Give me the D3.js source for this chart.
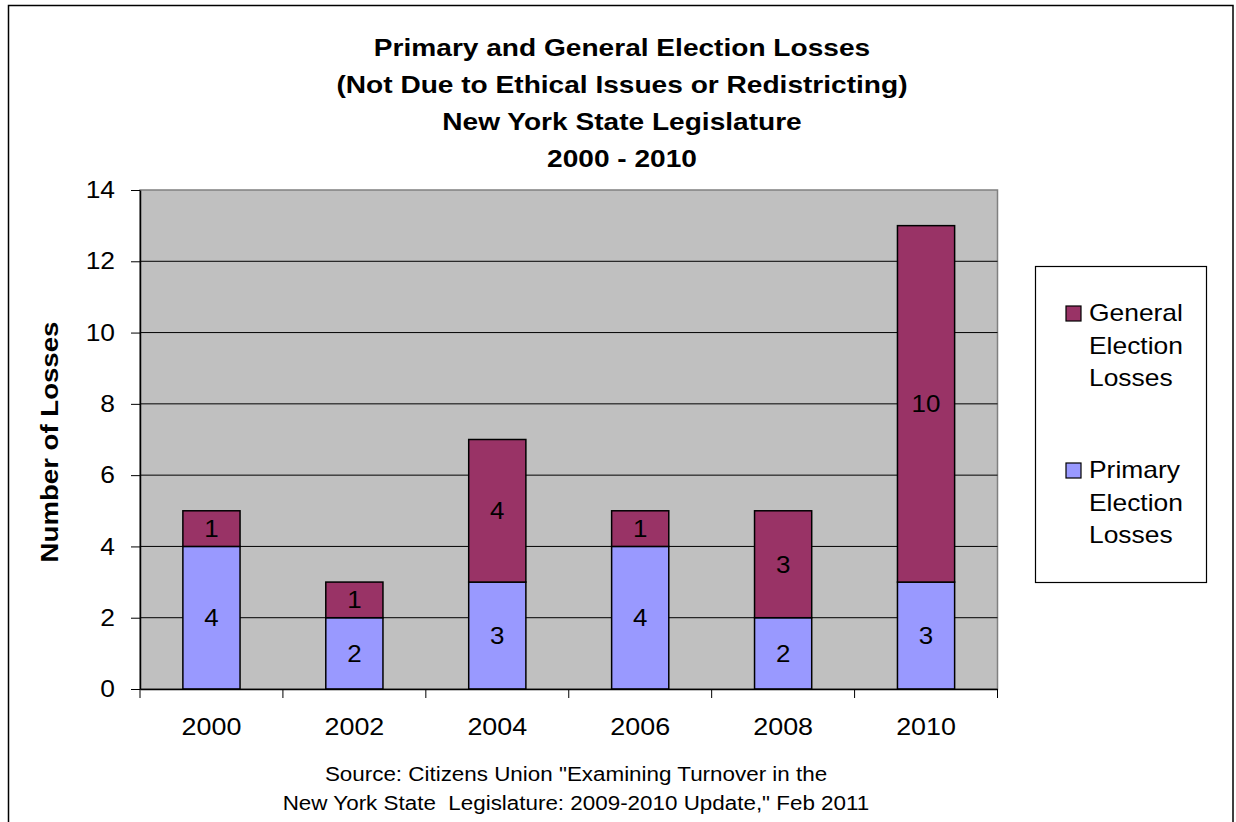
<!DOCTYPE html>
<html><head><meta charset="utf-8">
<script src="https://cdn.jsdelivr.net/npm/d3@7"></script>
<style>html,body{margin:0;padding:0;background:#fff;} svg{display:block;font-family:"Liberation Sans",Arial,sans-serif;} text{white-space:pre;}</style>
</head><body>
<svg id="c" width="1236" height="822"></svg>
<script>
const years = ["2000","2002","2004","2006","2008","2010"];
const primary = [4,2,3,4,2,3];
const general = [1,1,4,1,3,10];
const yTicks = [0,2,4,6,8,10,12,14];
const titleLines = ["Primary and General Election Losses","(Not Due to Ethical Issues or Redistricting)","New York State Legislature","2000 - 2010"];
const sourceLines = ["Source: Citizens Union \"Examining Turnover in the","New York State  Legislature: 2009-2010 Update,\" Feb 2011"];
const seriesNames = [["General","Election","Losses"],["Primary","Election","Losses"]];
const colors = {general:"#993366", primary:"#9999FF"};

function stretch(sel, k){
  sel.each(function(){
    const n=this, len=n.getComputedTextLength();
    d3.select(n).attr("textLength",len*k).attr("lengthAdjust","spacingAndGlyphs");
  });
}

const svg = d3.select("#c");
svg.append("rect").attr("x",8.5).attr("y",5.5).attr("width",1224.5).attr("height",830).attr("fill","#fff").attr("stroke","#000").attr("stroke-width",1.5);

const L=140,R=997.5,T=190,B=689;
const x = d3.scaleBand().domain(years).range([L,R]).paddingInner(0.6).paddingOuter(0.3);
const xb = d3.scaleBand().domain(years).range([L,R]);
const y = d3.scaleLinear().domain([0,14]).range([B,T]);

svg.append("rect").attr("x",L).attr("y",T).attr("width",R-L).attr("height",B-T).attr("fill","#C0C0C0").attr("stroke","#808080").attr("stroke-width",1.5);
svg.append("g").selectAll("line").data(yTicks.filter(d=>d>0&&d<14)).join("line")
  .attr("x1",L).attr("x2",R).attr("y1",d=>y(d)).attr("y2",d=>y(d)).attr("stroke","#000").attr("stroke-width",1);

const g = svg.append("g");
years.forEach((yr,i)=>{
  const bx = x(yr), bw = x.bandwidth();
  g.append("rect").attr("x",bx).attr("y",y(primary[i])).attr("width",bw).attr("height",y(0)-y(primary[i]))
    .attr("fill",colors.primary).attr("stroke","#000").attr("stroke-width",1.5);
  g.append("rect").attr("x",bx).attr("y",y(primary[i]+general[i])).attr("width",bw).attr("height",y(primary[i])-y(primary[i]+general[i]))
    .attr("fill",colors.general).attr("stroke","#000").attr("stroke-width",1.5);
  g.append("text").attr("class","dl").attr("x",bx+bw/2).attr("y",y(primary[i]/2)).attr("dy","0.35em").attr("text-anchor","middle")
    .attr("font-size",24).text(primary[i]);
  g.append("text").attr("class","dl").attr("x",bx+bw/2).attr("y",y(primary[i]+general[i]/2)).attr("dy","0.35em").attr("text-anchor","middle")
    .attr("font-size",24).text(general[i]);
});
stretch(g.selectAll("text.dl"),1.08);

const ya = svg.append("g").attr("transform",`translate(${L},0)`)
  .call(d3.axisLeft(y).tickValues(yTicks).tickSize(9).tickPadding(16).tickSizeOuter(0));
ya.select(".domain").attr("stroke","#000").attr("stroke-width",1.5);
ya.selectAll(".tick line").attr("stroke","#000");
ya.selectAll("text").attr("font-size",24).attr("font-family","Liberation Sans, Arial, sans-serif").attr("fill","#000");
stretch(ya.selectAll("text"),1.1);

const xa = svg.append("g").attr("transform",`translate(0,${B})`)
  .call(d3.axisBottom(xb).tickSize(0).tickPadding(29).tickSizeOuter(0));
xa.select(".domain").attr("stroke","#000").attr("stroke-width",1.5);
xa.selectAll("text").attr("font-size",24).attr("font-family","Liberation Sans, Arial, sans-serif").attr("fill","#000");
stretch(xa.selectAll("text"),1.12);
svg.append("g").selectAll("line").data(d3.range(years.length+1)).join("line")
  .attr("x1",d=>L+d*xb.step()).attr("x2",d=>L+d*xb.step()).attr("y1",B).attr("y2",B+9).attr("stroke","#000");

const tt = svg.append("g").selectAll("text").data(titleLines).join("text")
  .attr("x",622).attr("y",(d,i)=>48+i*37).attr("dy","0.35em").attr("text-anchor","middle")
  .attr("font-size",24).attr("font-weight","bold").text(d=>d);
stretch(tt,1.17);

const yl = svg.append("text").attr("transform","translate(50,442) rotate(-90)").attr("dy","0.35em").attr("text-anchor","middle")
  .attr("font-size",24).attr("font-weight","bold").text("Number of Losses");
stretch(yl,1.15);

const st = svg.append("g").selectAll("text").data(sourceLines).join("text")
  .attr("x",576).attr("y",(d,i)=>774+i*29).attr("dy","0.35em").attr("text-anchor","middle")
  .attr("font-size",20).text(d=>d);
stretch(st,1.12);

const lg = svg.append("g");
lg.append("rect").attr("x",1035.5).attr("y",266.5).attr("width",171).attr("height",316).attr("fill","#fff").attr("stroke","#000").attr("stroke-width",1.2);
const legendItems = [{c:colors.general,lines:seriesNames[0],y0:313},{c:colors.primary,lines:seriesNames[1],y0:470}];
legendItems.forEach(it=>{
  lg.append("rect").attr("x",1066).attr("y",it.y0-7).attr("width",15).attr("height",15).attr("fill",it.c).attr("stroke","#000").attr("stroke-width",1.2);
  it.lines.forEach((t,j)=>{
    lg.append("text").attr("class","lt").attr("x",1089).attr("y",it.y0+j*32.5).attr("dy","0.35em").attr("font-size",24).text(t);
  });
});
stretch(lg.selectAll("text.lt"),1.1);
</script>
</body></html>
